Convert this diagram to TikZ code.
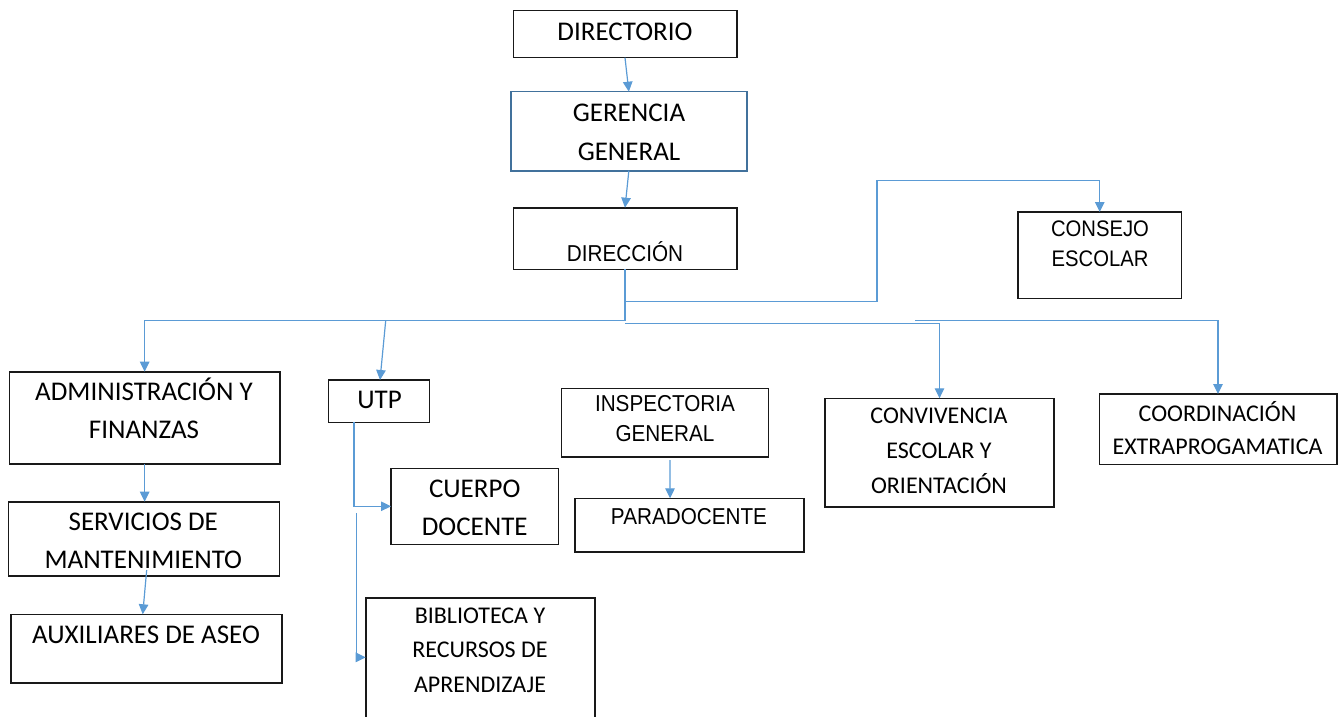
\documentclass[tikz,border=0pt]{standalone}
\usepackage{fontspec}
\setmainfont{Carlito}
\newfontfamily\arialn[FakeStretch=0.9]{Liberation Sans}
\usetikzlibrary{arrows.meta,calc}
\definecolor{boxc}{RGB}{25,25,25}
\definecolor{linec}{RGB}{91,155,213}
\definecolor{gerc}{RGB}{65,113,156}
\newcommand\setfs[2]{\fontsize{#1}{#2}\selectfont}
\tikzset{
  box/.style={draw=boxc, line width=1.6pt, inner sep=0pt, outer sep=0pt},
  txt/.style={inner sep=0pt, outer sep=0pt, align=center, text depth=0pt},
  conn/.style={draw=linec, line width=1.2pt, -{Triangle[length=10pt,width=9.5pt]}},
  plain/.style={draw=linec, line width=1.2pt}
}
\begin{document}
\begin{tikzpicture}[x=1pt,y=-1pt]
\useasboundingbox (0,0) rectangle (1342,717);
% boxes
\node[box, minimum width=223.4pt, minimum height=47pt] (directorio) at (625,34.2) {};
\node[box, draw=gerc, minimum width=235.7pt, minimum height=79pt] (gerencia) at (628.85,131.2) {};
\node[box, minimum width=223.4pt, minimum height=61.6pt] (direccion) at (625,238.5) {};
\node[box, minimum width=163.5pt, minimum height=86.5pt] (consejo) at (1099.75,255.25) {};
\node[box, minimum width=270.7pt, minimum height=92.3pt] (admin) at (144.65,417.85) {};
\node[box, minimum width=271pt, minimum height=74.3pt] (serv) at (143.8,538.85) {};
\node[box, minimum width=271pt, minimum height=68.4pt] (aux) at (146.2,648.5) {};
\node[box, minimum width=101pt, minimum height=42.3pt] (utp) at (378.8,401.15) {};
\node[box, minimum width=167.3pt, minimum height=76pt] (cuerpo) at (474.65,506.3) {};
\node[inner sep=0pt, outer sep=0pt, minimum width=229pt, minimum height=119.3pt] (biblio) at (480.2,657.35) {};
\draw[boxc, line width=1.6pt] (biblio.south west) -- (biblio.north west) -- (biblio.north east) -- (biblio.south east);
\node[box, minimum width=207pt, minimum height=68.4pt] (insp) at (664.8,422.5) {};
\node[box, minimum width=229.3pt, minimum height=53.7pt] (para) at (689.35,525.15) {};
\node[box, minimum width=229pt, minimum height=108.4pt] (conv) at (939.5,452.5) {};
\node[box, minimum width=237.4pt, minimum height=70.3pt] (coord) at (1218,429.15) {};
% texts
\node[txt, font=\setfs{27}{38.5}] (directorio-t) at (625,31.7) {DIRECTORIO};
\node[txt, font=\setfs{27}{39}] (gerencia-t) at (629,132) {GERENCIA\\GENERAL};
\node[txt, font=\arialn\setfs{23}{30}] (direccion-t) at (625,253.3) {DIRECCI\smash{Ó}N};
\node[txt, font=\arialn\setfs{22.5}{30}] (consejo-t) at (1100,243.3) {CONSEJO\\ESCOLAR};
\node[txt, font=\setfs{27}{38.3}] (admin-t) at (144,410.8) {ADMINISTRACI\smash{Ó}N Y\\FINANZAS};
\node[txt, font=\setfs{27}{38.3}] (serv-t) at (143.3,540.8) {SERVICIOS DE\\MANTENIMIENTO};
\node[txt, font=\setfs{27}{38.3}] (aux-t) at (146,635) {AUXILIARES DE ASEO};
\node[txt, font=\setfs{27}{38.3}] (utp-t) at (379.5,400) {UTP};
\node[txt, font=\setfs{27}{38.4}] (cuerpo-t) at (474.7,507.5) {CUERPO\\DOCENTE};
\node[txt, font=\setfs{24}{34.7}] (biblio-t) at (480,650) {BIBLIOTECA Y\\RECURSOS DE\\APRENDIZAJE};
\node[txt, font=\arialn\setfs{23}{30}] (insp-t) at (665,418.9) {INSPECTORIA\\GENERAL};
\node[txt, font=\arialn\setfs{23}{30}] (para-t) at (689,516) {PARADOCENTE};
\node[txt, font=\setfs{24}{35}] (conv-t) at (939,450.8) {CONVIVENCIA\\ESCOLAR Y\\ORIENTACIÓN};
\node[txt, font=\setfs{24}{33.3}] (coord-t) at (1217.5,430) {COORDINACI\smash{Ó}N\\EXTRAPROGAMATICA};
% connector coordinates
\coordinate (c1) at (877,180.7);
\coordinate (j1) at (625,320.7);
\coordinate (j2) at (625,323.3);
\coordinate (j3) at (915,320.7);
\coordinate (u1) at (385.7,320.7);
\coordinate (b1) at (356.7,513);
% connectors
\draw[conn] (directorio.south) -- (gerencia.north);
\draw[conn] (gerencia.south) -- (direccion.north);
\draw[conn] (direccion.south) -- ++(0,32.4) -| (c1) -| (consejo.north);
\draw[conn] (direccion.south) -- (j1) -| (admin.north);
\draw[conn] (u1) -- ($(utp.north)+(1.2,0)$);
\draw[conn] (j2) -| (conv.north);
\draw[conn] (j3) -| (coord.north);
\draw[conn] (admin.south) -- (serv.north -| admin.south);
\draw[conn] ($(serv.south)+(2.9,-6)$) -- ($(aux.north)+(-3.5,0)$);
\draw[conn] ($(utp.south)+(-24.8,0)$) |- (cuerpo.west);
\draw[conn] (b1) |- (biblio.west);
\draw[conn] ($(insp.south)+(5.2,3.3)$) -- ($(para.north)+(-19.3,0)$);
\end{tikzpicture}
\end{document}
